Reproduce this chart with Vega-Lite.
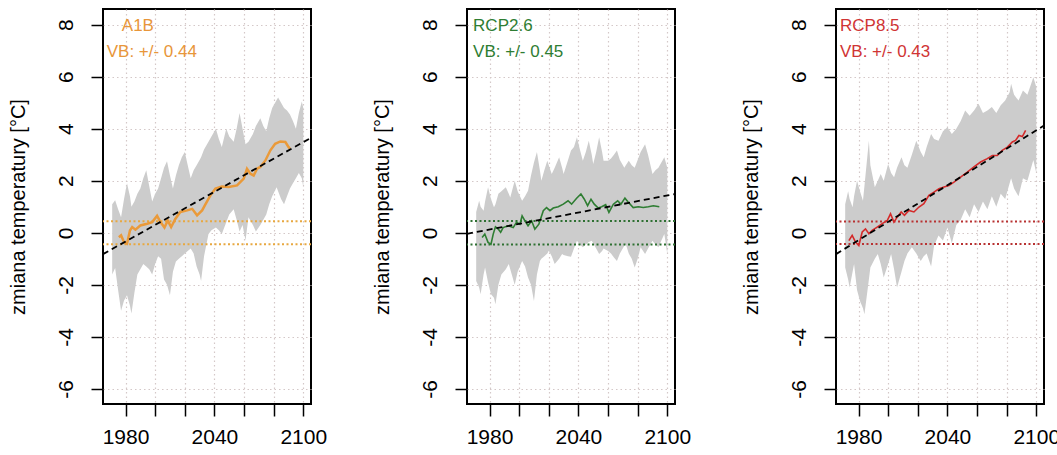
{
  "$schema": "https://vega.github.io/schema/vega-lite/v6.json",
  "padding": {"left": 6, "top": 8, "right": 0, "bottom": 5},
  "background": "white",
  "config": {
    "font": "Liberation Sans",
    "view": {"stroke": "black", "strokeWidth": 2},
    "axis": {"domain": false, "tickColor": "black", "tickWidth": 1.5, "tickSize": 12, "labelFontSize": 21, "labelColor": "black", "titleFontSize": 20, "titleFontWeight": "normal", "titleColor": "black", "gridColor": "#d4c8c8", "gridDash": [1.5, 3], "gridWidth": 1.2, "labelFlush": false, "labelOverlap": false}
  },
  "datasets": {
    "band": [
      {"panel":"A1B","year":1971,"lo":-1.6,"hi":1.1},{"panel":"A1B","year":1973,"lo":-1.35,"hi":1.25},{"panel":"A1B","year":1975,"lo":-2.2,"hi":0.9},{"panel":"A1B","year":1977,"lo":-3.0,"hi":0.6},{"panel":"A1B","year":1979,"lo":-2.6,"hi":1.3},{"panel":"A1B","year":1981,"lo":-2.4,"hi":1.9},{"panel":"A1B","year":1983,"lo":-2.8,"hi":1.4},{"panel":"A1B","year":1984,"lo":-3.1,"hi":1.0},{"panel":"A1B","year":1986,"lo":-2.3,"hi":1.2},{"panel":"A1B","year":1988,"lo":-1.6,"hi":1.5},{"panel":"A1B","year":1990,"lo":-1.4,"hi":1.7},{"panel":"A1B","year":1992,"lo":-1.2,"hi":2.1},{"panel":"A1B","year":1994,"lo":-1.3,"hi":2.4},{"panel":"A1B","year":1996,"lo":-1.4,"hi":1.8},{"panel":"A1B","year":1998,"lo":-1.6,"hi":1.2},{"panel":"A1B","year":2000,"lo":-1.2,"hi":1.5},{"panel":"A1B","year":2002,"lo":-0.9,"hi":1.7},{"panel":"A1B","year":2004,"lo":-1.0,"hi":2.1},{"panel":"A1B","year":2006,"lo":-1.8,"hi":2.5},{"panel":"A1B","year":2008,"lo":-2.0,"hi":2.75},{"panel":"A1B","year":2010,"lo":-2.4,"hi":2.2},{"panel":"A1B","year":2012,"lo":-1.5,"hi":1.7},{"panel":"A1B","year":2014,"lo":-1.1,"hi":2.2},{"panel":"A1B","year":2016,"lo":-1.0,"hi":2.6},{"panel":"A1B","year":2018,"lo":-0.9,"hi":2.9},{"panel":"A1B","year":2020,"lo":-0.8,"hi":3.1},{"panel":"A1B","year":2022,"lo":-0.7,"hi":2.6},{"panel":"A1B","year":2024,"lo":-0.6,"hi":2.1},{"panel":"A1B","year":2026,"lo":-0.8,"hi":2.4},{"panel":"A1B","year":2028,"lo":-1.3,"hi":2.6},{"panel":"A1B","year":2030,"lo":-1.6,"hi":2.8},{"panel":"A1B","year":2031,"lo":-1.85,"hi":2.9},{"panel":"A1B","year":2033,"lo":-0.9,"hi":3.2},{"panel":"A1B","year":2036,"lo":-0.05,"hi":3.5},{"panel":"A1B","year":2038,"lo":0.1,"hi":3.7},{"panel":"A1B","year":2041,"lo":0.2,"hi":4.0},{"panel":"A1B","year":2043,"lo":0.1,"hi":3.6},{"panel":"A1B","year":2045,"lo":-0.05,"hi":3.3},{"panel":"A1B","year":2048,"lo":0.4,"hi":4.0},{"panel":"A1B","year":2050,"lo":0.7,"hi":3.7},{"panel":"A1B","year":2053,"lo":0.9,"hi":3.5},{"panel":"A1B","year":2055,"lo":0.5,"hi":4.0},{"panel":"A1B","year":2057,"lo":0.05,"hi":4.6},{"panel":"A1B","year":2059,"lo":0.3,"hi":4.0},{"panel":"A1B","year":2061,"lo":-0.3,"hi":3.4},{"panel":"A1B","year":2063,"lo":0.6,"hi":3.5},{"panel":"A1B","year":2066,"lo":0.3,"hi":3.8},{"panel":"A1B","year":2068,"lo":0.05,"hi":4.1},{"panel":"A1B","year":2071,"lo":0.3,"hi":4.4},{"panel":"A1B","year":2073,"lo":0.5,"hi":4.1},{"panel":"A1B","year":2075,"lo":0.7,"hi":3.9},{"panel":"A1B","year":2077,"lo":1.1,"hi":4.4},{"panel":"A1B","year":2079,"lo":1.4,"hi":4.8},{"panel":"A1B","year":2082,"lo":1.75,"hi":5.1},{"panel":"A1B","year":2083,"lo":1.6,"hi":5.2},{"panel":"A1B","year":2085,"lo":1.3,"hi":5.0},{"panel":"A1B","year":2087,"lo":1.1,"hi":4.8},{"panel":"A1B","year":2089,"lo":1.4,"hi":4.7},{"panel":"A1B","year":2091,"lo":1.7,"hi":4.55},{"panel":"A1B","year":2093,"lo":1.9,"hi":4.3},{"panel":"A1B","year":2095,"lo":2.1,"hi":4.0},{"panel":"A1B","year":2097,"lo":2.3,"hi":4.6},{"panel":"A1B","year":2099,"lo":2.1,"hi":5.05},{"panel":"A1B","year":2100,"lo":1.75,"hi":4.8},

      {"panel":"RCP26","year":1971,"lo":-1.85,"hi":0.8},{"panel":"RCP26","year":1973,"lo":-2.1,"hi":1.23},{"panel":"RCP26","year":1974,"lo":-2.36,"hi":1.0},{"panel":"RCP26","year":1976,"lo":-1.6,"hi":0.85},{"panel":"RCP26","year":1977,"lo":-1.33,"hi":1.2},{"panel":"RCP26","year":1979,"lo":-1.9,"hi":1.75},{"panel":"RCP26","year":1981,"lo":-2.36,"hi":1.3},{"panel":"RCP26","year":1983,"lo":-2.5,"hi":0.98},{"panel":"RCP26","year":1984,"lo":-2.75,"hi":1.1},{"panel":"RCP26","year":1986,"lo":-2.0,"hi":1.5},{"panel":"RCP26","year":1988,"lo":-1.6,"hi":1.6},{"panel":"RCP26","year":1991,"lo":-1.4,"hi":1.75},{"panel":"RCP26","year":1993,"lo":-1.2,"hi":1.5},{"panel":"RCP26","year":1994,"lo":-1.4,"hi":1.36},{"panel":"RCP26","year":1997,"lo":-2.0,"hi":2.0},{"panel":"RCP26","year":1999,"lo":-1.5,"hi":1.6},{"panel":"RCP26","year":2002,"lo":-1.08,"hi":1.23},{"panel":"RCP26","year":2004,"lo":-1.3,"hi":1.4},{"panel":"RCP26","year":2006,"lo":-1.72,"hi":1.62},{"panel":"RCP26","year":2008,"lo":-2.0,"hi":2.2},{"panel":"RCP26","year":2010,"lo":-2.62,"hi":2.7},{"panel":"RCP26","year":2012,"lo":-1.6,"hi":3.1},{"panel":"RCP26","year":2014,"lo":-1.08,"hi":2.4},{"panel":"RCP26","year":2015,"lo":-1.0,"hi":2.0},{"panel":"RCP26","year":2017,"lo":-0.9,"hi":2.4},{"panel":"RCP26","year":2019,"lo":-0.8,"hi":2.77},{"panel":"RCP26","year":2020,"lo":-0.69,"hi":2.6},{"panel":"RCP26","year":2022,"lo":-0.9,"hi":2.26},{"panel":"RCP26","year":2024,"lo":-1.2,"hi":2.5},{"panel":"RCP26","year":2027,"lo":-1.0,"hi":2.9},{"panel":"RCP26","year":2029,"lo":-0.82,"hi":2.5},{"panel":"RCP26","year":2030,"lo":-0.85,"hi":2.26},{"panel":"RCP26","year":2033,"lo":-0.9,"hi":2.8},{"panel":"RCP26","year":2035,"lo":-0.92,"hi":3.16},{"panel":"RCP26","year":2037,"lo":-0.6,"hi":3.3},{"panel":"RCP26","year":2039,"lo":-0.31,"hi":3.67},{"panel":"RCP26","year":2041,"lo":-0.45,"hi":3.2},{"panel":"RCP26","year":2043,"lo":-0.56,"hi":2.77},{"panel":"RCP26","year":2045,"lo":-0.45,"hi":3.1},{"panel":"RCP26","year":2047,"lo":-0.35,"hi":3.54},{"panel":"RCP26","year":2049,"lo":-0.31,"hi":3.0},{"panel":"RCP26","year":2050,"lo":-0.4,"hi":2.64},{"panel":"RCP26","year":2052,"lo":-0.6,"hi":3.1},{"panel":"RCP26","year":2054,"lo":-0.82,"hi":3.67},{"panel":"RCP26","year":2056,"lo":-0.7,"hi":3.1},{"panel":"RCP26","year":2057,"lo":-0.6,"hi":2.77},{"panel":"RCP26","year":2060,"lo":-0.7,"hi":2.77},{"panel":"RCP26","year":2062,"lo":-0.8,"hi":2.85},{"panel":"RCP26","year":2064,"lo":-0.95,"hi":3.0},{"panel":"RCP26","year":2066,"lo":-1.08,"hi":3.16},{"panel":"RCP26","year":2068,"lo":-0.8,"hi":2.8},{"panel":"RCP26","year":2071,"lo":-0.5,"hi":2.5},{"panel":"RCP26","year":2072,"lo":-0.44,"hi":2.6},{"panel":"RCP26","year":2074,"lo":-0.8,"hi":2.77},{"panel":"RCP26","year":2076,"lo":-1.0,"hi":2.6},{"panel":"RCP26","year":2078,"lo":-1.33,"hi":2.5},{"panel":"RCP26","year":2080,"lo":-1.0,"hi":2.8},{"panel":"RCP26","year":2082,"lo":-0.56,"hi":3.1},{"panel":"RCP26","year":2085,"lo":-0.82,"hi":3.4},{"panel":"RCP26","year":2087,"lo":-0.6,"hi":3.0},{"panel":"RCP26","year":2090,"lo":-0.31,"hi":2.26},{"panel":"RCP26","year":2092,"lo":-0.45,"hi":2.4},{"panel":"RCP26","year":2094,"lo":-0.56,"hi":2.5},{"panel":"RCP26","year":2096,"lo":-0.3,"hi":2.7},{"panel":"RCP26","year":2098,"lo":-0.05,"hi":2.9},{"panel":"RCP26","year":2100,"lo":-0.82,"hi":2.5},

      {"panel":"RCP85","year":1971,"lo":-1.33,"hi":1.1},{"panel":"RCP85","year":1973,"lo":-1.8,"hi":1.6},{"panel":"RCP85","year":1974,"lo":-2.1,"hi":1.3},{"panel":"RCP85","year":1976,"lo":-1.5,"hi":0.98},{"panel":"RCP85","year":1977,"lo":-1.2,"hi":1.4},{"panel":"RCP85","year":1979,"lo":-2.2,"hi":2.0},{"panel":"RCP85","year":1981,"lo":-2.62,"hi":1.6},{"panel":"RCP85","year":1983,"lo":-2.9,"hi":1.23},{"panel":"RCP85","year":1984,"lo":-3.13,"hi":1.8},{"panel":"RCP85","year":1987,"lo":-1.8,"hi":3.54},{"panel":"RCP85","year":1988,"lo":-1.33,"hi":2.6},{"panel":"RCP85","year":1991,"lo":-1.0,"hi":1.75},{"panel":"RCP85","year":1993,"lo":-0.82,"hi":2.0},{"panel":"RCP85","year":1995,"lo":-1.2,"hi":2.26},{"panel":"RCP85","year":1997,"lo":-1.72,"hi":2.0},{"panel":"RCP85","year":2000,"lo":-1.2,"hi":2.64},{"panel":"RCP85","year":2002,"lo":-0.82,"hi":2.3},{"panel":"RCP85","year":2004,"lo":-1.4,"hi":2.13},{"panel":"RCP85","year":2006,"lo":-2.1,"hi":2.5},{"panel":"RCP85","year":2009,"lo":-1.5,"hi":2.9},{"panel":"RCP85","year":2011,"lo":-1.08,"hi":2.6},{"panel":"RCP85","year":2013,"lo":-0.8,"hi":2.5},{"panel":"RCP85","year":2016,"lo":-0.56,"hi":3.0},{"panel":"RCP85","year":2019,"lo":-0.8,"hi":3.54},{"panel":"RCP85","year":2022,"lo":-1.08,"hi":3.1},{"panel":"RCP85","year":2024,"lo":-0.9,"hi":2.9},{"panel":"RCP85","year":2026,"lo":-0.8,"hi":3.3},{"panel":"RCP85","year":2029,"lo":-1.3,"hi":3.8},{"panel":"RCP85","year":2031,"lo":-0.5,"hi":3.6},{"panel":"RCP85","year":2034,"lo":-0.1,"hi":3.54},{"panel":"RCP85","year":2037,"lo":-0.3,"hi":3.9},{"panel":"RCP85","year":2040,"lo":0.2,"hi":4.06},{"panel":"RCP85","year":2043,"lo":-0.4,"hi":3.8},{"panel":"RCP85","year":2046,"lo":0.3,"hi":4.0},{"panel":"RCP85","year":2049,"lo":0.5,"hi":4.3},{"panel":"RCP85","year":2052,"lo":0.9,"hi":4.7},{"panel":"RCP85","year":2055,"lo":0.6,"hi":4.5},{"panel":"RCP85","year":2058,"lo":1.1,"hi":4.7},{"panel":"RCP85","year":2061,"lo":0.8,"hi":4.96},{"panel":"RCP85","year":2064,"lo":1.2,"hi":4.6},{"panel":"RCP85","year":2067,"lo":0.9,"hi":4.7},{"panel":"RCP85","year":2070,"lo":1.4,"hi":4.83},{"panel":"RCP85","year":2073,"lo":1.0,"hi":4.6},{"panel":"RCP85","year":2076,"lo":1.5,"hi":4.9},{"panel":"RCP85","year":2079,"lo":1.3,"hi":5.08},{"panel":"RCP85","year":2082,"lo":1.9,"hi":5.4},{"panel":"RCP85","year":2083,"lo":2.1,"hi":5.73},{"panel":"RCP85","year":2085,"lo":1.7,"hi":5.3},{"panel":"RCP85","year":2088,"lo":1.4,"hi":5.08},{"panel":"RCP85","year":2091,"lo":2.1,"hi":5.47},{"panel":"RCP85","year":2094,"lo":2.0,"hi":5.3},{"panel":"RCP85","year":2097,"lo":2.6,"hi":5.8},{"panel":"RCP85","year":2098,"lo":2.8,"hi":5.98},{"panel":"RCP85","year":2100,"lo":2.3,"hi":5.6}
    ],
    "mean": [
      {"panel":"A1B","year":1975.5,"t":-0.17},{"panel":"A1B","year":1977,"t":-0.1},{"panel":"A1B","year":1979,"t":-0.36},{"panel":"A1B","year":1981,"t":-0.42},{"panel":"A1B","year":1983,"t":0.09},{"panel":"A1B","year":1984.5,"t":0.22},{"panel":"A1B","year":1986.7,"t":0.12},{"panel":"A1B","year":1990,"t":0.28},{"panel":"A1B","year":1994.6,"t":0.35},{"panel":"A1B","year":1998,"t":0.41},{"panel":"A1B","year":2001.3,"t":0.65},{"panel":"A1B","year":2003.6,"t":0.41},{"panel":"A1B","year":2006.3,"t":0.2},{"panel":"A1B","year":2008.5,"t":0.47},{"panel":"A1B","year":2010.8,"t":0.22},{"panel":"A1B","year":2013.7,"t":0.54},{"panel":"A1B","year":2017,"t":0.8},{"panel":"A1B","year":2021.6,"t":0.86},{"panel":"A1B","year":2025,"t":0.92},{"panel":"A1B","year":2028.3,"t":0.67},{"panel":"A1B","year":2031.7,"t":0.86},{"panel":"A1B","year":2034,"t":1.1},{"panel":"A1B","year":2037.3,"t":1.44},{"panel":"A1B","year":2040.7,"t":1.7},{"panel":"A1B","year":2045,"t":1.78},{"panel":"A1B","year":2049.7,"t":1.76},{"panel":"A1B","year":2055.3,"t":1.82},{"panel":"A1B","year":2059.8,"t":2.08},{"panel":"A1B","year":2062,"t":2.46},{"panel":"A1B","year":2064.3,"t":2.27},{"panel":"A1B","year":2066.5,"t":2.2},{"panel":"A1B","year":2068.8,"t":2.46},{"panel":"A1B","year":2071,"t":2.53},{"panel":"A1B","year":2074.4,"t":2.78},{"panel":"A1B","year":2077.8,"t":3.17},{"panel":"A1B","year":2081,"t":3.42},{"panel":"A1B","year":2084.5,"t":3.51},{"panel":"A1B","year":2087.9,"t":3.49},{"panel":"A1B","year":2090,"t":3.3},{"panel":"A1B","year":2091,"t":3.23},

      {"panel":"RCP26","year":1975,"t":-0.18},{"panel":"RCP26","year":1976.8,"t":-0.05},{"panel":"RCP26","year":1979,"t":-0.37},{"panel":"RCP26","year":1981,"t":-0.44},{"panel":"RCP26","year":1982.5,"t":-0.05},{"panel":"RCP26","year":1984,"t":0.23},{"panel":"RCP26","year":1985.9,"t":0.14},{"panel":"RCP26","year":1987.5,"t":0.02},{"panel":"RCP26","year":1989.2,"t":0.2},{"panel":"RCP26","year":1992.6,"t":0.27},{"panel":"RCP26","year":1996,"t":0.2},{"panel":"RCP26","year":1998.2,"t":0.4},{"panel":"RCP26","year":2000.5,"t":0.33},{"panel":"RCP26","year":2002,"t":0.65},{"panel":"RCP26","year":2003.9,"t":0.46},{"panel":"RCP26","year":2006,"t":0.27},{"panel":"RCP26","year":2008.4,"t":0.46},{"panel":"RCP26","year":2010.6,"t":0.14},{"panel":"RCP26","year":2013.3,"t":0.33},{"panel":"RCP26","year":2016.3,"t":0.85},{"panel":"RCP26","year":2018.5,"t":0.97},{"panel":"RCP26","year":2020.8,"t":0.85},{"panel":"RCP26","year":2023,"t":0.95},{"panel":"RCP26","year":2026.4,"t":1.0},{"panel":"RCP26","year":2029.8,"t":1.1},{"panel":"RCP26","year":2033,"t":1.23},{"panel":"RCP26","year":2035.4,"t":1.1},{"panel":"RCP26","year":2038.8,"t":1.33},{"panel":"RCP26","year":2041.7,"t":1.49},{"panel":"RCP26","year":2044,"t":1.29},{"panel":"RCP26","year":2046.2,"t":1.04},{"panel":"RCP26","year":2048.5,"t":1.29},{"panel":"RCP26","year":2050.7,"t":1.1},{"panel":"RCP26","year":2053.4,"t":0.95},{"panel":"RCP26","year":2055.7,"t":1.0},{"panel":"RCP26","year":2058.4,"t":1.08},{"panel":"RCP26","year":2060.6,"t":0.78},{"panel":"RCP26","year":2063.6,"t":1.1},{"panel":"RCP26","year":2066.5,"t":1.23},{"panel":"RCP26","year":2068.7,"t":1.1},{"panel":"RCP26","year":2071.4,"t":1.33},{"panel":"RCP26","year":2073.7,"t":1.17},{"panel":"RCP26","year":2077,"t":0.97},{"panel":"RCP26","year":2080.5,"t":1.0},{"panel":"RCP26","year":2083.8,"t":0.97},{"panel":"RCP26","year":2087.2,"t":1.0},{"panel":"RCP26","year":2090.6,"t":1.04},{"panel":"RCP26","year":2094.6,"t":1.0},

      {"panel":"RCP85","year":1973.5,"t":-0.3},{"panel":"RCP85","year":1975.7,"t":-0.1},{"panel":"RCP85","year":1978,"t":-0.36},{"panel":"RCP85","year":1980.2,"t":-0.49},{"panel":"RCP85","year":1982.5,"t":0.03},{"panel":"RCP85","year":1984.7,"t":0.15},{"panel":"RCP85","year":1987,"t":-0.04},{"panel":"RCP85","year":1989.2,"t":0.09},{"panel":"RCP85","year":1992.6,"t":0.22},{"panel":"RCP85","year":1996,"t":0.35},{"panel":"RCP85","year":1999.4,"t":0.47},{"panel":"RCP85","year":2001.6,"t":0.73},{"panel":"RCP85","year":2003.9,"t":0.41},{"panel":"RCP85","year":2006.1,"t":0.6},{"panel":"RCP85","year":2008.8,"t":0.8},{"panel":"RCP85","year":2011,"t":0.67},{"panel":"RCP85","year":2014,"t":0.86},{"panel":"RCP85","year":2017.4,"t":0.8},{"panel":"RCP85","year":2020.8,"t":0.99},{"panel":"RCP85","year":2024.1,"t":1.12},{"panel":"RCP85","year":2027.5,"t":1.44},{"panel":"RCP85","year":2030.9,"t":1.56},{"panel":"RCP85","year":2034.3,"t":1.69},{"panel":"RCP85","year":2037.7,"t":1.76},{"panel":"RCP85","year":2041,"t":1.82},{"panel":"RCP85","year":2044.4,"t":1.95},{"panel":"RCP85","year":2048.9,"t":2.14},{"panel":"RCP85","year":2053.4,"t":2.33},{"panel":"RCP85","year":2057.9,"t":2.53},{"panel":"RCP85","year":2062.4,"t":2.72},{"panel":"RCP85","year":2066.9,"t":2.85},{"panel":"RCP85","year":2070.3,"t":2.97},{"panel":"RCP85","year":2073.7,"t":2.97},{"panel":"RCP85","year":2077,"t":3.17},{"panel":"RCP85","year":2080.5,"t":3.29},{"panel":"RCP85","year":2083.8,"t":3.49},{"panel":"RCP85","year":2086,"t":3.55},{"panel":"RCP85","year":2088.3,"t":3.74},{"panel":"RCP85","year":2090.6,"t":3.7},{"panel":"RCP85","year":2092.8,"t":3.94}
    ],
    "trend": [
      {"panel":"A1B","year":1964.8,"t":-0.82},{"panel":"A1B","year":2105.2,"t":3.65},
      {"panel":"RCP26","year":1964.8,"t":-0.04},{"panel":"RCP26","year":2105.2,"t":1.49},
      {"panel":"RCP85","year":1964.8,"t":-0.82},{"panel":"RCP85","year":2105.2,"t":4.12}
    ],
    "vb": [
      {"panel":"A1B","v":0.44},{"panel":"A1B","v":-0.44},
      {"panel":"RCP26","v":0.45},{"panel":"RCP26","v":-0.45},
      {"panel":"RCP85","v":0.43},{"panel":"RCP85","v":-0.43}
    ],
    "labels": [
      {"panel":"A1B","year":1977.5,"t":7.95,"text":"A1B"},{"panel":"A1B","year":1967.3,"t":6.95,"text":"VB: +/- 0.44"},
      {"panel":"RCP26","year":1968.9,"t":7.95,"text":"RCP2.6"},{"panel":"RCP26","year":1968.9,"t":6.95,"text":"VB: +/- 0.45"},
      {"panel":"RCP85","year":1967.5,"t":7.95,"text":"RCP8.5"},{"panel":"RCP85","year":1967.5,"t":6.95,"text":"VB: +/- 0.43"}
    ]
  },
  "spacing": 42,
  "hconcat": [
    {
      "width": 208, "height": 395,
      "encoding": {
        "x": {"field": "year", "type": "quantitative", "scale": {"domain": [1964.8, 2105.2], "nice": false, "zero": false}, "axis": {"title": null, "values": [1980, 2000, 2020, 2040, 2060, 2080, 2100], "format": "d", "labelExpr": "(datum.value == 1980 || datum.value == 2040 || datum.value == 2100) ? datum.label : ''", "labelPadding": 10}},
        "y": {"field": "t", "type": "quantitative", "scale": {"domain": [-6.58, 8.6], "nice": false, "zero": false}, "axis": {"title": "zmiana temperatury [°C]", "values": [-6, -4, -2, 0, 2, 4, 6, 8], "labelExpr": "'' + datum.value", "labelAngle": 270, "labelAlign": "center", "labelBaseline": "bottom", "labelPadding": 15, "titlePadding": 27}}
      },
      "layer": [
        {"data": {"name": "band"}, "transform": [{"filter": "datum.panel == 'A1B'"}], "mark": {"type": "area", "color": "#cccccc", "opacity": 1}, "encoding": {"y": {"field": "lo", "type": "quantitative"}, "y2": {"field": "hi"}}},
        {"data": {"name": "vb"}, "transform": [{"filter": "datum.panel == 'A1B'"}], "mark": {"type": "rule", "color": "#E8A840", "strokeWidth": 2, "strokeDash": [2, 2.5]}, "encoding": {"x": null, "y": {"field": "v", "type": "quantitative"}}},
        {"data": {"name": "mean"}, "transform": [{"filter": "datum.panel == 'A1B'"}], "mark": {"type": "line", "color": "#EA9A3A", "strokeWidth": 2.5}},
        {"data": {"name": "trend"}, "transform": [{"filter": "datum.panel == 'A1B'"}], "mark": {"type": "line", "color": "black", "strokeWidth": 1.8, "strokeDash": [6, 4]}},
        {"data": {"name": "labels"}, "transform": [{"filter": "datum.panel == 'A1B'"}], "mark": {"type": "text", "color": "#E8963A", "fontSize": 17, "align": "left", "baseline": "middle"}, "encoding": {"text": {"field": "text"}}}
      ]
    },
    {
      "spacing": 47,
      "hconcat": [
        {
          "width": 208, "height": 395,
          "encoding": {
            "x": {"field": "year", "type": "quantitative", "scale": {"domain": [1964.8, 2105.2], "nice": false, "zero": false}, "axis": {"title": null, "values": [1980, 2000, 2020, 2040, 2060, 2080, 2100], "format": "d", "labelExpr": "(datum.value == 1980 || datum.value == 2040 || datum.value == 2100) ? datum.label : ''", "labelPadding": 10}},
            "y": {"field": "t", "type": "quantitative", "scale": {"domain": [-6.58, 8.6], "nice": false, "zero": false}, "axis": {"title": "zmiana temperatury [°C]", "values": [-6, -4, -2, 0, 2, 4, 6, 8], "labelExpr": "'' + datum.value", "labelAngle": 270, "labelAlign": "center", "labelBaseline": "bottom", "labelPadding": 15, "titlePadding": 27}}
          },
          "layer": [
            {"data": {"name": "band"}, "transform": [{"filter": "datum.panel == 'RCP26'"}], "mark": {"type": "area", "color": "#cccccc", "opacity": 1}, "encoding": {"y": {"field": "lo", "type": "quantitative"}, "y2": {"field": "hi"}}},
            {"data": {"name": "vb"}, "transform": [{"filter": "datum.panel == 'RCP26'"}], "mark": {"type": "rule", "color": "#2E7032", "strokeWidth": 2, "strokeDash": [2, 2.5]}, "encoding": {"x": null, "y": {"field": "v", "type": "quantitative"}}},
            {"data": {"name": "mean"}, "transform": [{"filter": "datum.panel == 'RCP26'"}], "mark": {"type": "line", "color": "#2E7D32", "strokeWidth": 1.6}},
            {"data": {"name": "trend"}, "transform": [{"filter": "datum.panel == 'RCP26'"}], "mark": {"type": "line", "color": "black", "strokeWidth": 1.8, "strokeDash": [6, 4]}},
            {"data": {"name": "labels"}, "transform": [{"filter": "datum.panel == 'RCP26'"}], "mark": {"type": "text", "color": "#2E7D32", "fontSize": 17, "align": "left", "baseline": "middle"}, "encoding": {"text": {"field": "text"}}}
          ]
        },
        {
          "width": 208, "height": 395,
          "encoding": {
            "x": {"field": "year", "type": "quantitative", "scale": {"domain": [1964.8, 2105.2], "nice": false, "zero": false}, "axis": {"title": null, "values": [1980, 2000, 2020, 2040, 2060, 2080, 2100], "format": "d", "labelExpr": "(datum.value == 1980 || datum.value == 2040 || datum.value == 2100) ? datum.label : ''", "labelPadding": 10}},
            "y": {"field": "t", "type": "quantitative", "scale": {"domain": [-6.58, 8.6], "nice": false, "zero": false}, "axis": {"title": "zmiana temperatury [°C]", "values": [-6, -4, -2, 0, 2, 4, 6, 8], "labelExpr": "'' + datum.value", "labelAngle": 270, "labelAlign": "center", "labelBaseline": "bottom", "labelPadding": 15, "titlePadding": 27}}
          },
          "layer": [
            {"data": {"name": "band"}, "transform": [{"filter": "datum.panel == 'RCP85'"}], "mark": {"type": "area", "color": "#cccccc", "opacity": 1}, "encoding": {"y": {"field": "lo", "type": "quantitative"}, "y2": {"field": "hi"}}},
            {"data": {"name": "vb"}, "transform": [{"filter": "datum.panel == 'RCP85'"}], "mark": {"type": "rule", "color": "#B83232", "strokeWidth": 2, "strokeDash": [2, 2.5]}, "encoding": {"x": null, "y": {"field": "v", "type": "quantitative"}}},
            {"data": {"name": "mean"}, "transform": [{"filter": "datum.panel == 'RCP85'"}], "mark": {"type": "line", "color": "#D42A2A", "strokeWidth": 1.6}},
            {"data": {"name": "trend"}, "transform": [{"filter": "datum.panel == 'RCP85'"}], "mark": {"type": "line", "color": "black", "strokeWidth": 1.8, "strokeDash": [6, 4]}},
            {"data": {"name": "labels"}, "transform": [{"filter": "datum.panel == 'RCP85'"}], "mark": {"type": "text", "color": "#D03434", "fontSize": 17, "align": "left", "baseline": "middle"}, "encoding": {"text": {"field": "text"}}}
          ]
        }
      ]
    }
  ]
}
